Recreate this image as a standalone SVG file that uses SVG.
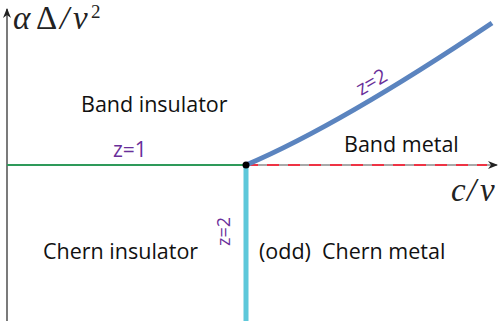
<svg xmlns="http://www.w3.org/2000/svg" width="498" height="321" viewBox="0 0 498 321">
<style>
.lbl{font-family:"Open Sans","Liberation Sans",sans-serif;font-size:21.5px;fill:#111}
.z{font-family:"Open Sans","Liberation Sans",sans-serif;fill:#6a2f9a}
.math{font-family:"Liberation Serif","DejaVu Serif",serif;font-style:italic;fill:#222}
</style>
<defs>
<marker id="ah" viewBox="0 0 10 10" refX="9" refY="5" markerWidth="10" markerHeight="10" markerUnits="userSpaceOnUse" orient="auto">
<path d="M0,1 L10,5 L0,9 L3,5 Z" fill="#222"/>
</marker>
</defs>
<g id="connectors">
<line x1="7" y1="321" x2="7" y2="9" stroke="#222" stroke-width="1.2" marker-end="url(#ah)"/>
<line x1="7" y1="165" x2="497" y2="165" stroke="#555" stroke-width="1.2" marker-end="url(#ah)"/>
<line x1="7" y1="165" x2="246" y2="165" stroke="#2e9a5a" stroke-width="2.2"/>
<line x1="246" y1="165" x2="487" y2="165" stroke="#ee3344" stroke-width="2.2" stroke-dasharray="12,9"/>
<line x1="246" y1="165" x2="246" y2="321" stroke="#5ec8da" stroke-width="5"/>
<path d="M246,165 Q340,125 492,23" fill="none" stroke="#5b84bf" stroke-width="5"/>
<circle cx="246" cy="165" r="3.5" fill="#000"/>
</g>
<g id="axis-labels">
<text class="math" y="29" font-size="33"><tspan x="13">α</tspan><tspan x="36" font-style="normal">Δ</tspan><tspan x="60">/</tspan><tspan x="73">v</tspan><tspan x="91" y="18" font-style="normal" font-size="19">2</tspan></text>
<text class="math" y="201" font-size="33"><tspan x="451">c</tspan><tspan x="467">/</tspan><tspan x="480">v</tspan></text>
</g>
<g id="band-insulator"><text class="lbl" x="81" y="112">Band insulator</text></g>
<g id="band-metal"><text class="lbl" x="344" y="152">Band metal</text></g>
<g id="chern-insulator"><text class="lbl" x="43" y="259">Chern insulator</text></g>
<g id="chern-metal"><text class="lbl" y="259"><tspan x="259">(odd)</tspan><tspan x="322">Chern metal</tspan></text></g>
<g id="z-labels">
<text class="z" x="113" y="157" font-size="21">z=1</text>
<text class="z" font-size="18" transform="translate(230,246) rotate(-90)">z=2</text>
<text class="z" font-size="20" transform="translate(361,96) rotate(-30)">z=2</text>
</g>
</svg>
